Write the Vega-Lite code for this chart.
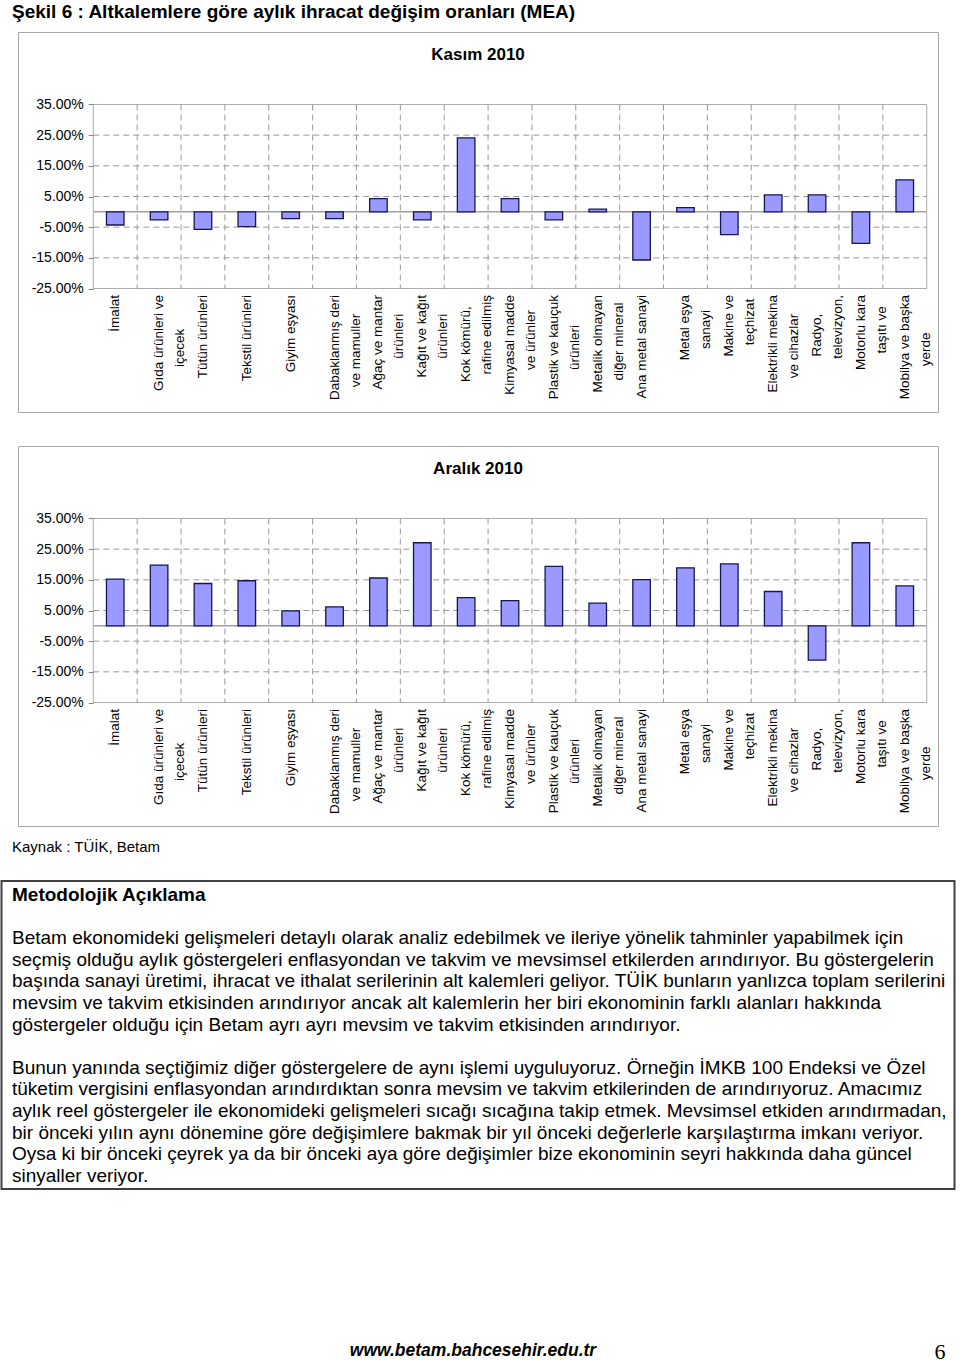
{
  "$schema": "https://vega.github.io/schema/vega-lite/v6.json",
  "background": "white",
  "padding": 0,
  "bounds": "flush",
  "center": true,
  "spacing": 0,
  "config": {"font": "Liberation Sans", "view": {"stroke": null}},
  "datasets": {
    "kasim": [
      {"kat": "İmalat", "v": -0.043},
      {"kat": "Gıda ürünleri ve\niçecek", "v": -0.026},
      {"kat": "Tütün ürünleri", "v": -0.057},
      {"kat": "Tekstil ürünleri", "v": -0.048},
      {"kat": "Giyim eşyası", "v": -0.022},
      {"kat": "Dabaklanmış deri\nve mamuller", "v": -0.022},
      {"kat": "Ağaç ve mantar\nürünleri", "v": 0.043},
      {"kat": "Kağıt ve kağıt\nürünleri", "v": -0.026},
      {"kat": "Kok kömürü,\nrafine edilmiş", "v": 0.241},
      {"kat": "Kimyasal madde\nve ürünler", "v": 0.043},
      {"kat": "Plastik ve kauçuk\nürünleri", "v": -0.026},
      {"kat": "Metalik olmayan\ndiğer mineral", "v": 0.009},
      {"kat": "Ana metal sanayi", "v": -0.157},
      {"kat": "Metal eşya\nsanayi", "v": 0.014},
      {"kat": "Makine ve\nteçhizat", "v": -0.074},
      {"kat": "Elektrikli mekina\nve cihazlar", "v": 0.055},
      {"kat": "Radyo,\ntelevizyon,", "v": 0.055},
      {"kat": "Motorlu kara\ntaşıtı ve", "v": -0.103},
      {"kat": "Mobilya ve başka\nyerde", "v": 0.104}
    ],
    "aralik": [
      {"kat": "İmalat", "v": 0.152},
      {"kat": "Gıda ürünleri ve\niçecek", "v": 0.198},
      {"kat": "Tütün ürünleri", "v": 0.138},
      {"kat": "Tekstil ürünleri", "v": 0.147},
      {"kat": "Giyim eşyası", "v": 0.049},
      {"kat": "Dabaklanmış deri\nve mamuller", "v": 0.062},
      {"kat": "Ağaç ve mantar\nürünleri", "v": 0.156},
      {"kat": "Kağıt ve kağıt\nürünleri", "v": 0.271},
      {"kat": "Kok kömürü,\nrafine edilmiş", "v": 0.092},
      {"kat": "Kimyasal madde\nve ürünler", "v": 0.082},
      {"kat": "Plastik ve kauçuk\nürünleri", "v": 0.194},
      {"kat": "Metalik olmayan\ndiğer mineral", "v": 0.074},
      {"kat": "Ana metal sanayi", "v": 0.151},
      {"kat": "Metal eşya\nsanayi", "v": 0.189},
      {"kat": "Makine ve\nteçhizat", "v": 0.202},
      {"kat": "Elektrikli mekina\nve cihazlar", "v": 0.112},
      {"kat": "Radyo,\ntelevizyon,", "v": -0.112},
      {"kat": "Motorlu kara\ntaşıtı ve", "v": 0.271},
      {"kat": "Mobilya ve başka\nyerde", "v": 0.130}
    ],
    "yticks": [{"t": -0.25}, {"t": -0.15}, {"t": -0.05}, {"t": 0.05}, {"t": 0.15}, {"t": 0.25}, {"t": 0.35}],
    "sinirlar": [{"b": 0}, {"b": 1}, {"b": 2}, {"b": 3}, {"b": 4}, {"b": 5}, {"b": 6}, {"b": 7}, {"b": 8}, {"b": 9}, {"b": 10}, {"b": 11}, {"b": 12}, {"b": 13}, {"b": 14}, {"b": 15}, {"b": 16}, {"b": 17}, {"b": 18}, {"b": 19}],
    "aciklama": [
      {"satir": 0, "metin": "Metodolojik Açıklama"},
      {"satir": 2, "metin": "Betam ekonomideki gelişmeleri detaylı olarak analiz edebilmek ve ileriye yönelik tahminler yapabilmek için"},
      {"satir": 3, "metin": "seçmiş olduğu aylık göstergeleri enflasyondan ve takvim ve mevsimsel etkilerden arındırıyor. Bu göstergelerin"},
      {"satir": 4, "metin": "başında sanayi üretimi, ihracat ve ithalat serilerinin alt kalemleri geliyor. TÜİK bunların yanlızca toplam serilerini"},
      {"satir": 5, "metin": "mevsim ve takvim etkisinden arındırıyor ancak alt kalemlerin her biri ekonominin farklı alanları hakkında"},
      {"satir": 6, "metin": "göstergeler olduğu için Betam ayrı ayrı mevsim ve takvim etkisinden arındırıyor."},
      {"satir": 8, "metin": "Bunun yanında seçtiğimiz diğer göstergelere de aynı işlemi uyguluyoruz. Örneğin İMKB 100 Endeksi ve Özel"},
      {"satir": 9, "metin": "tüketim vergisini enflasyondan arındırdıktan sonra mevsim ve takvim etkilerinden de arındırıyoruz.  Amacımız"},
      {"satir": 10, "metin": "aylık reel göstergeler ile ekonomideki gelişmeleri sıcağı sıcağına takip etmek. Mevsimsel etkiden arındırmadan,"},
      {"satir": 11, "metin": "bir önceki yılın aynı dönemine göre değişimlere bakmak bir yıl  önceki değerlerle karşılaştırma imkanı veriyor."},
      {"satir": 12, "metin": "Oysa ki bir önceki çeyrek ya da bir önceki aya göre değişimler bize ekonominin seyri hakkında daha güncel"},
      {"satir": 13, "metin": "sinyaller veriyor."}
    ]
  },
  "vconcat": [
    {
      "width": 956, "height": 32,
      "data": {"values": [{"t": "Şekil 6 : Altkalemlere göre aylık ihracat değişim oranları (MEA)"}]},
      "mark": {"type": "text", "align": "left", "baseline": "middle", "fontSize": 19, "fontWeight": "bold", "color": "black"},
      "encoding": {
        "text": {"field": "t"},
        "x": {"datum": 12, "type": "quantitative", "scale": {"domain": [0, 956], "nice": false, "zero": false}, "axis": null},
        "y": {"datum": 12, "type": "quantitative", "scale": {"domain": [0, 32], "reverse": true, "nice": false, "zero": false}, "axis": null}
      }
    },
    {
      "width": 920, "height": 380,
      "view": {"stroke": "#a6a6a6", "strokeWidth": 1},
      "resolve": {"scale": {"x": "independent"}, "axis": {"x": "independent", "y": "independent"}},
      "layer": [
        {
          "data": {"name": "yticks"},
          "mark": {"type": "rule", "color": "#999999", "strokeWidth": 1},
          "encoding": {
            "y": {"field": "t", "type": "quantitative", "scale": {"domain": [-0.6527, 0.5864], "nice": false, "zero": false}, "axis": null},
            "x": {"datum": 0, "type": "quantitative", "scale": {"domain": [0, 19], "range": [75.3, 908.7], "nice": false, "zero": false}, "axis": null},
            "x2": {"datum": 19},
            "strokeDash": {"condition": {"test": "datum.t < -0.2 || datum.t > 0.3", "value": [1, 0]}, "value": [6, 4]}
          }
        },
        {
          "data": {"name": "sinirlar"},
          "mark": {"type": "rule", "color": "#999999", "strokeWidth": 1},
          "encoding": {
            "x": {"field": "b", "type": "quantitative", "scale": {"domain": [0, 19], "range": [75.3, 908.7], "nice": false, "zero": false}, "axis": null},
            "y": {"datum": 0.35, "type": "quantitative", "scale": {"domain": [-0.6527, 0.5864], "nice": false, "zero": false}, "axis": null},
            "y2": {"datum": -0.25},
            "strokeDash": {"condition": {"test": "datum.b == 0 || datum.b == 19", "value": [1, 0]}, "value": [6, 4]}
          }
        },
        {
          "data": {"values": [{}]},
          "mark": {"type": "rule", "color": "#a0a0a0", "strokeWidth": 1.5},
          "encoding": {
            "y": {"datum": 0, "type": "quantitative", "scale": {"domain": [-0.6527, 0.5864], "nice": false, "zero": false}, "axis": null},
            "x": {"datum": 0, "type": "quantitative", "scale": {"domain": [0, 19], "range": [75.3, 908.7], "nice": false, "zero": false}, "axis": null},
            "x2": {"datum": 19}
          }
        },
        {
          "data": {"name": "kasim"},
          "mark": {"type": "bar", "fill": "#9999ff", "stroke": "#161650", "strokeWidth": 1.3},
          "encoding": {
            "x": {"field": "kat", "type": "nominal", "sort": null,
              "scale": {"range": [75.3, 908.7], "paddingInner": 0.6, "paddingOuter": 0.3},
              "axis": {"orient": "bottom", "offset": -123.5, "domain": false, "ticks": false, "grid": false, "title": null,
                "labelAngle": -90, "labelAlign": "right", "labelBaseline": "middle", "labelPadding": 6,
                "labelFontSize": 13.5, "labelLineHeight": 21, "labelColor": "black", "labelLimit": 300, "labelOverlap": false,
                "labelExpr": "length(split(datum.label, '\\n')) < 2 ? datum.label : [pad(split(datum.label, '\\n')[0], length(split(datum.label, '\\n')[0]) + max(0, round((length(split(datum.label, '\\n')[1]) - length(split(datum.label, '\\n')[0])) * 0.9)), '\u00a0') + '\u200b', pad(split(datum.label, '\\n')[1], length(split(datum.label, '\\n')[1]) + max(0, round((length(split(datum.label, '\\n')[0]) - length(split(datum.label, '\\n')[1])) * 0.9)), '\u00a0') + '\u200b']"}},
            "y": {"field": "v", "type": "quantitative", "scale": {"domain": [-0.6527, 0.5864], "nice": false, "zero": false},
              "axis": {"orient": "left", "values": [-0.25, -0.15, -0.05, 0.05, 0.15, 0.25, 0.35], "format": ".2%", "offset": -75.3, "domain": false, "grid": false,
                "labelExpr": "replace(datum.label, '\u2212', '-')",
                "ticks": true, "tickSize": 5, "tickColor": "#808080", "labelFontSize": 14, "labelColor": "black", "labelPadding": 5, "labelOverlap": false, "title": null}},
            "y2": {"datum": 0}
          }
        },
        {
          "data": {"values": [{}]},
          "mark": {"type": "text", "fontSize": 17, "fontWeight": "bold", "baseline": "middle", "align": "center", "color": "black"},
          "encoding": {
            "text": {"value": "Kasım 2010"},
            "y": {"datum": 0.51, "type": "quantitative", "scale": {"domain": [-0.6527, 0.5864], "nice": false, "zero": false}, "axis": null}
          }
        }
      ]
    },
    {
      "width": 956, "height": 34,
      "data": {"values": [{}]},
      "mark": "text",
      "encoding": {"text": {"value": ""}}
    },
    {
      "width": 920, "height": 380,
      "view": {"stroke": "#a6a6a6", "strokeWidth": 1},
      "resolve": {"scale": {"x": "independent"}, "axis": {"x": "independent", "y": "independent"}},
      "layer": [
        {
          "data": {"name": "yticks"},
          "mark": {"type": "rule", "color": "#999999", "strokeWidth": 1},
          "encoding": {
            "y": {"field": "t", "type": "quantitative", "scale": {"domain": [-0.6527, 0.5864], "nice": false, "zero": false}, "axis": null},
            "x": {"datum": 0, "type": "quantitative", "scale": {"domain": [0, 19], "range": [75.3, 908.7], "nice": false, "zero": false}, "axis": null},
            "x2": {"datum": 19},
            "strokeDash": {"condition": {"test": "datum.t < -0.2 || datum.t > 0.3", "value": [1, 0]}, "value": [6, 4]}
          }
        },
        {
          "data": {"name": "sinirlar"},
          "mark": {"type": "rule", "color": "#999999", "strokeWidth": 1},
          "encoding": {
            "x": {"field": "b", "type": "quantitative", "scale": {"domain": [0, 19], "range": [75.3, 908.7], "nice": false, "zero": false}, "axis": null},
            "y": {"datum": 0.35, "type": "quantitative", "scale": {"domain": [-0.6527, 0.5864], "nice": false, "zero": false}, "axis": null},
            "y2": {"datum": -0.25},
            "strokeDash": {"condition": {"test": "datum.b == 0 || datum.b == 19", "value": [1, 0]}, "value": [6, 4]}
          }
        },
        {
          "data": {"values": [{}]},
          "mark": {"type": "rule", "color": "#a0a0a0", "strokeWidth": 1.5},
          "encoding": {
            "y": {"datum": 0, "type": "quantitative", "scale": {"domain": [-0.6527, 0.5864], "nice": false, "zero": false}, "axis": null},
            "x": {"datum": 0, "type": "quantitative", "scale": {"domain": [0, 19], "range": [75.3, 908.7], "nice": false, "zero": false}, "axis": null},
            "x2": {"datum": 19}
          }
        },
        {
          "data": {"name": "aralik"},
          "mark": {"type": "bar", "fill": "#9999ff", "stroke": "#161650", "strokeWidth": 1.3},
          "encoding": {
            "x": {"field": "kat", "type": "nominal", "sort": null,
              "scale": {"range": [75.3, 908.7], "paddingInner": 0.6, "paddingOuter": 0.3},
              "axis": {"orient": "bottom", "offset": -123.5, "domain": false, "ticks": false, "grid": false, "title": null,
                "labelAngle": -90, "labelAlign": "right", "labelBaseline": "middle", "labelPadding": 6,
                "labelFontSize": 13.5, "labelLineHeight": 21, "labelColor": "black", "labelLimit": 300, "labelOverlap": false,
                "labelExpr": "length(split(datum.label, '\\n')) < 2 ? datum.label : [pad(split(datum.label, '\\n')[0], length(split(datum.label, '\\n')[0]) + max(0, round((length(split(datum.label, '\\n')[1]) - length(split(datum.label, '\\n')[0])) * 0.9)), '\u00a0') + '\u200b', pad(split(datum.label, '\\n')[1], length(split(datum.label, '\\n')[1]) + max(0, round((length(split(datum.label, '\\n')[0]) - length(split(datum.label, '\\n')[1])) * 0.9)), '\u00a0') + '\u200b']"}},
            "y": {"field": "v", "type": "quantitative", "scale": {"domain": [-0.6527, 0.5864], "nice": false, "zero": false},
              "axis": {"orient": "left", "values": [-0.25, -0.15, -0.05, 0.05, 0.15, 0.25, 0.35], "format": ".2%", "offset": -75.3, "domain": false, "grid": false,
                "labelExpr": "replace(datum.label, '\u2212', '-')",
                "ticks": true, "tickSize": 5, "tickColor": "#808080", "labelFontSize": 14, "labelColor": "black", "labelPadding": 5, "labelOverlap": false, "title": null}},
            "y2": {"datum": 0}
          }
        },
        {
          "data": {"values": [{}]},
          "mark": {"type": "text", "fontSize": 17, "fontWeight": "bold", "baseline": "middle", "align": "center", "color": "black"},
          "encoding": {
            "text": {"value": "Aralık 2010"},
            "y": {"datum": 0.51, "type": "quantitative", "scale": {"domain": [-0.6527, 0.5864], "nice": false, "zero": false}, "axis": null}
          }
        }
      ]
    },
    {
      "width": 956, "height": 55,
      "data": {"values": [{"t": "Kaynak : TÜİK, Betam"}]},
      "mark": {"type": "text", "align": "left", "baseline": "middle", "fontSize": 15, "color": "black"},
      "encoding": {
        "text": {"field": "t"},
        "x": {"datum": 12, "type": "quantitative", "scale": {"domain": [0, 956], "nice": false, "zero": false}, "axis": null},
        "y": {"datum": 21, "type": "quantitative", "scale": {"domain": [0, 55], "reverse": true, "nice": false, "zero": false}, "axis": null}
      }
    },
    {
      "width": 953, "height": 308,
      "view": {"stroke": "#404040", "strokeWidth": 2},
      "data": {"name": "aciklama"},
      "layer": [
        {
          "transform": [{"filter": "datum.satir == 0"}],
          "mark": {"type": "text", "align": "left", "baseline": "middle", "fontSize": 19, "fontWeight": "bold", "color": "black"},
          "encoding": {
            "text": {"field": "metin"},
            "x": {"datum": 10.5, "type": "quantitative", "scale": {"domain": [0, 953], "nice": false, "zero": false}, "axis": null},
            "y": {"field": "satir", "type": "quantitative", "scale": {"domain": [-0.648, 13.61], "reverse": true, "nice": false, "zero": false}, "axis": null}
          }
        },
        {
          "transform": [{"filter": "datum.satir > 0"}],
          "mark": {"type": "text", "align": "left", "baseline": "middle", "fontSize": 19, "color": "black"},
          "encoding": {
            "text": {"field": "metin"},
            "x": {"datum": 10.5, "type": "quantitative", "scale": {"domain": [0, 953], "nice": false, "zero": false}, "axis": null},
            "y": {"field": "satir", "type": "quantitative", "scale": {"domain": [-0.648, 13.61], "reverse": true, "nice": false, "zero": false}, "axis": null}
          }
        }
      ]
    },
    {
      "width": 956, "height": 173,
      "layer": [
        {
          "data": {"values": [{"t": "www.betam.bahcesehir.edu.tr"}]},
          "mark": {"type": "text", "align": "center", "baseline": "middle", "fontSize": 17.5, "fontWeight": "bold", "fontStyle": "italic", "color": "black"},
          "encoding": {
            "text": {"field": "t"},
            "x": {"datum": 473, "type": "quantitative", "scale": {"domain": [0, 956], "nice": false, "zero": false}, "axis": null},
            "y": {"datum": 162, "type": "quantitative", "scale": {"domain": [0, 173], "reverse": true, "nice": false, "zero": false}, "axis": null}
          }
        },
        {
          "data": {"values": [{"t": "6"}]},
          "mark": {"type": "text", "align": "center", "baseline": "middle", "fontSize": 22, "font": "Liberation Serif", "color": "black"},
          "encoding": {
            "text": {"field": "t"},
            "x": {"datum": 940, "type": "quantitative", "scale": {"domain": [0, 956], "nice": false, "zero": false}, "axis": null},
            "y": {"datum": 163, "type": "quantitative", "scale": {"domain": [0, 173], "reverse": true, "nice": false, "zero": false}, "axis": null}
          }
        }
      ]
    }
  ]
}
